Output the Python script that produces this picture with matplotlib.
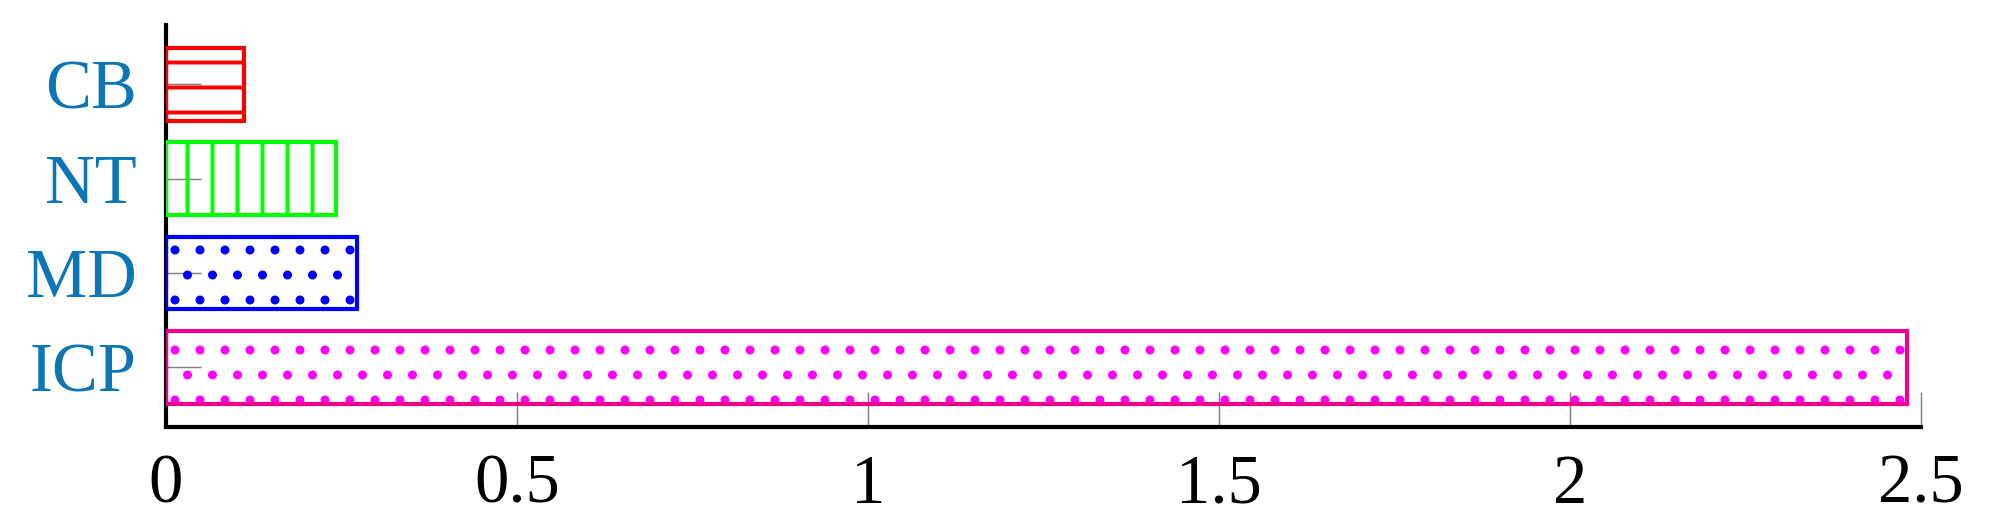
import numpy as np
import matplotlib.pyplot as plt

# datos (de abajo hacia arriba)
categorias = ["ICP", "MD", "NT", "CB"]
valores = [2.48, 0.272, 0.242, 0.111]
bordes = ["#EC008C", "#0000FF", "#00FF00", "#FF0000"]
tramas = ["#FF00FF", "#0000FF", "#00FF00", "#FF0000"]
patrones = [".", ".", "|", "-"]
xticks = [0, 0.5, 1, 1.5, 2, 2.5]
xtick_labels = ["0", "0.5", "1", "1.5", "2", "2.5"]

plt.rcParams['font.family'] = ['Liberation Serif', 'DejaVu Serif']
plt.rcParams['hatch.linewidth'] = 1.9

fig = plt.figure(figsize=(13.3, 520/150), dpi=150)
ax = fig.add_axes([0.0832, 0.179, 0.963 - 0.0832, 0.952 - 0.179])
ax.set_axisbelow(True)

pos = np.arange(len(categorias))
# relleno con trama
for i in range(len(categorias)):
    ax.barh(pos[i], valores[i], height=0.77, color="none", edgecolor=tramas[i],
            hatch=patrones[i], linewidth=0, zorder=2)
# contorno
ax.barh(pos, valores, height=0.77, color="none", edgecolor=bordes, linewidth=2.0, zorder=3)

ax.set_xlim(0, 2.5)
ax.set_ylim(-0.63, 3.63)
ax.set_xticks(xticks)
ax.set_xticklabels(xtick_labels)
ax.set_yticks(pos)
ax.set_yticklabels(categorias, color="#0B75B6")

for s in ["top", "right"]:
    ax.spines[s].set_visible(False)
for s in ["left", "bottom"]:
    ax.spines[s].set_linewidth(2.0)
    ax.spines[s].set_color("black")

ax.tick_params(axis="x", direction="in", length=17, width=0.7, color="#808080",
               labelsize=33, pad=13)
ax.tick_params(axis="y", direction="in", length=17, width=0.7, color="#808080",
               labelsize=33, pad=14)

fig.savefig("out.png", dpi=150)
